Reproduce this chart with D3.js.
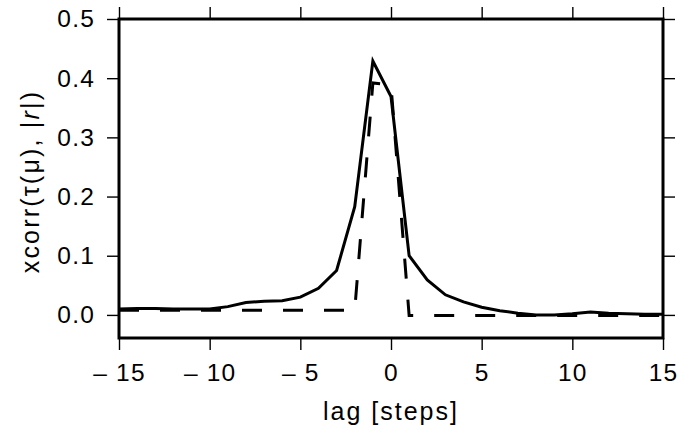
<!DOCTYPE html>
<html>
<head>
<meta charset="utf-8">
<script src="https://cdn.jsdelivr.net/npm/d3@7"></script>
<style>
  body { margin: 0; background: #fff; }
  text { font-family: "Liberation Sans", Arial, sans-serif; fill: #000; }
</style>
</head>
<body>
<div id="chart"></div>
<script>
// lag values (steps)
const lags = [-15, -14, -13, -12, -11, -10, -9, -8, -7, -6, -5, -4, -3, -2, -1, 0,
  1, 2, 3, 4, 5, 6, 7, 8, 9, 10, 11, 12, 13, 14, 15];

// solid curve
const solidVals = [0.010, 0.011, 0.011, 0.010, 0.010, 0.010, 0.014, 0.021, 0.023, 0.024,
  0.030, 0.045, 0.075, 0.183, 0.429, 0.369, 0.100, 0.059, 0.034, 0.022,
  0.013, 0.007, 0.003, 0.000, 0.000, 0.002, 0.005, 0.003, 0.002, 0.001, 0.001];

// dashed curve
const dashedVals = [0.008, 0.008, 0.008, 0.008, 0.008, 0.008, 0.008, 0.008, 0.008, 0.008,
  0.008, 0.008, 0.008, 0.008, 0.392, 0.388, -0.001, -0.001, -0.001, -0.001,
  -0.001, -0.001, -0.001, -0.001, -0.001, -0.001, -0.001, -0.001, -0.001, -0.001, -0.001];

const xTicks = [-15, -10, -5, 0, 5, 10, 15];
const yTicks = [0.0, 0.1, 0.2, 0.3, 0.4, 0.5];

const W = 685, H = 435;
const margin = { top: 19, right: 22, bottom: 97, left: 119 };
const width = W - margin.left - margin.right;
const height = H - margin.top - margin.bottom;

const svg = d3.select("#chart").append("svg")
  .attr("width", W)
  .attr("height", H);

const g = svg.append("g")
  .attr("transform", `translate(${margin.left},${margin.top})`);

const x = d3.scaleLinear().domain([-15, 15]).range([0, width]);
const y = d3.scaleLinear().domain([-0.039, 0.5]).range([height, 0]);

const fmtX = d => d < 0 ? "\u2013 " + Math.abs(d) : String(d);

// Axes (ticks on all four sides, labels on left and bottom)
function styleAxis(sel) {
  sel.select(".domain").remove();
  sel.selectAll(".tick line").attr("stroke", "#000").attr("stroke-width", 1.4);
  sel.selectAll(".tick text")
    .style("font-family", '"Liberation Sans", Arial, sans-serif')
    .style("letter-spacing", "1.2px")
    .attr("font-size", 24.5)
    .attr("fill", "#000");
}

g.append("g")
  .attr("transform", `translate(0,${height})`)
  .call(d3.axisBottom(x).tickValues(xTicks).tickSize(12).tickPadding(14).tickFormat(fmtX))
  .call(styleAxis);

g.append("g")
  .call(d3.axisTop(x).tickValues(xTicks).tickSize(12).tickFormat(""))
  .call(styleAxis);

g.append("g")
  .call(d3.axisLeft(y).tickValues(yTicks).tickSize(12).tickPadding(12).tickFormat(d3.format(".1f")))
  .call(styleAxis);

g.append("g")
  .attr("transform", `translate(${width},0)`)
  .call(d3.axisRight(y).tickValues(yTicks).tickSize(12).tickFormat(""))
  .call(styleAxis);

// Lines
const line = d3.line()
  .x((d, i) => x(lags[i]))
  .y(d => y(d));

g.append("path")
  .datum(dashedVals)
  .attr("d", line)
  .attr("fill", "none")
  .attr("stroke", "#000")
  .attr("stroke-width", 3)
  .attr("stroke-dasharray", "20 21");

g.append("path")
  .datum(solidVals)
  .attr("d", line)
  .attr("fill", "none")
  .attr("stroke", "#000")
  .attr("stroke-width", 3);

// Frame
g.append("rect")
  .attr("x", 0)
  .attr("y", 0)
  .attr("width", width)
  .attr("height", height)
  .attr("fill", "none")
  .attr("stroke", "#000")
  .attr("stroke-width", 3);

// Axis labels
g.append("text")
  .attr("x", width / 2)
  .attr("y", height + 82)
  .attr("text-anchor", "middle")
  .attr("font-size", 25)
  .style("letter-spacing", "2px")
  .text("lag [steps]");

const yl = g.append("text")
  .attr("transform", `translate(${39 - margin.left},${181.5 - margin.top}) rotate(-90)`)
  .attr("text-anchor", "middle")
  .attr("font-size", 25)
  .style("letter-spacing", "2.2px");
yl.append("tspan").text("xcorr(\u03c4(\u03bc), |");
yl.append("tspan").attr("font-style", "italic").text("r");
yl.append("tspan").text("|)");
</script>
</body>
</html>
